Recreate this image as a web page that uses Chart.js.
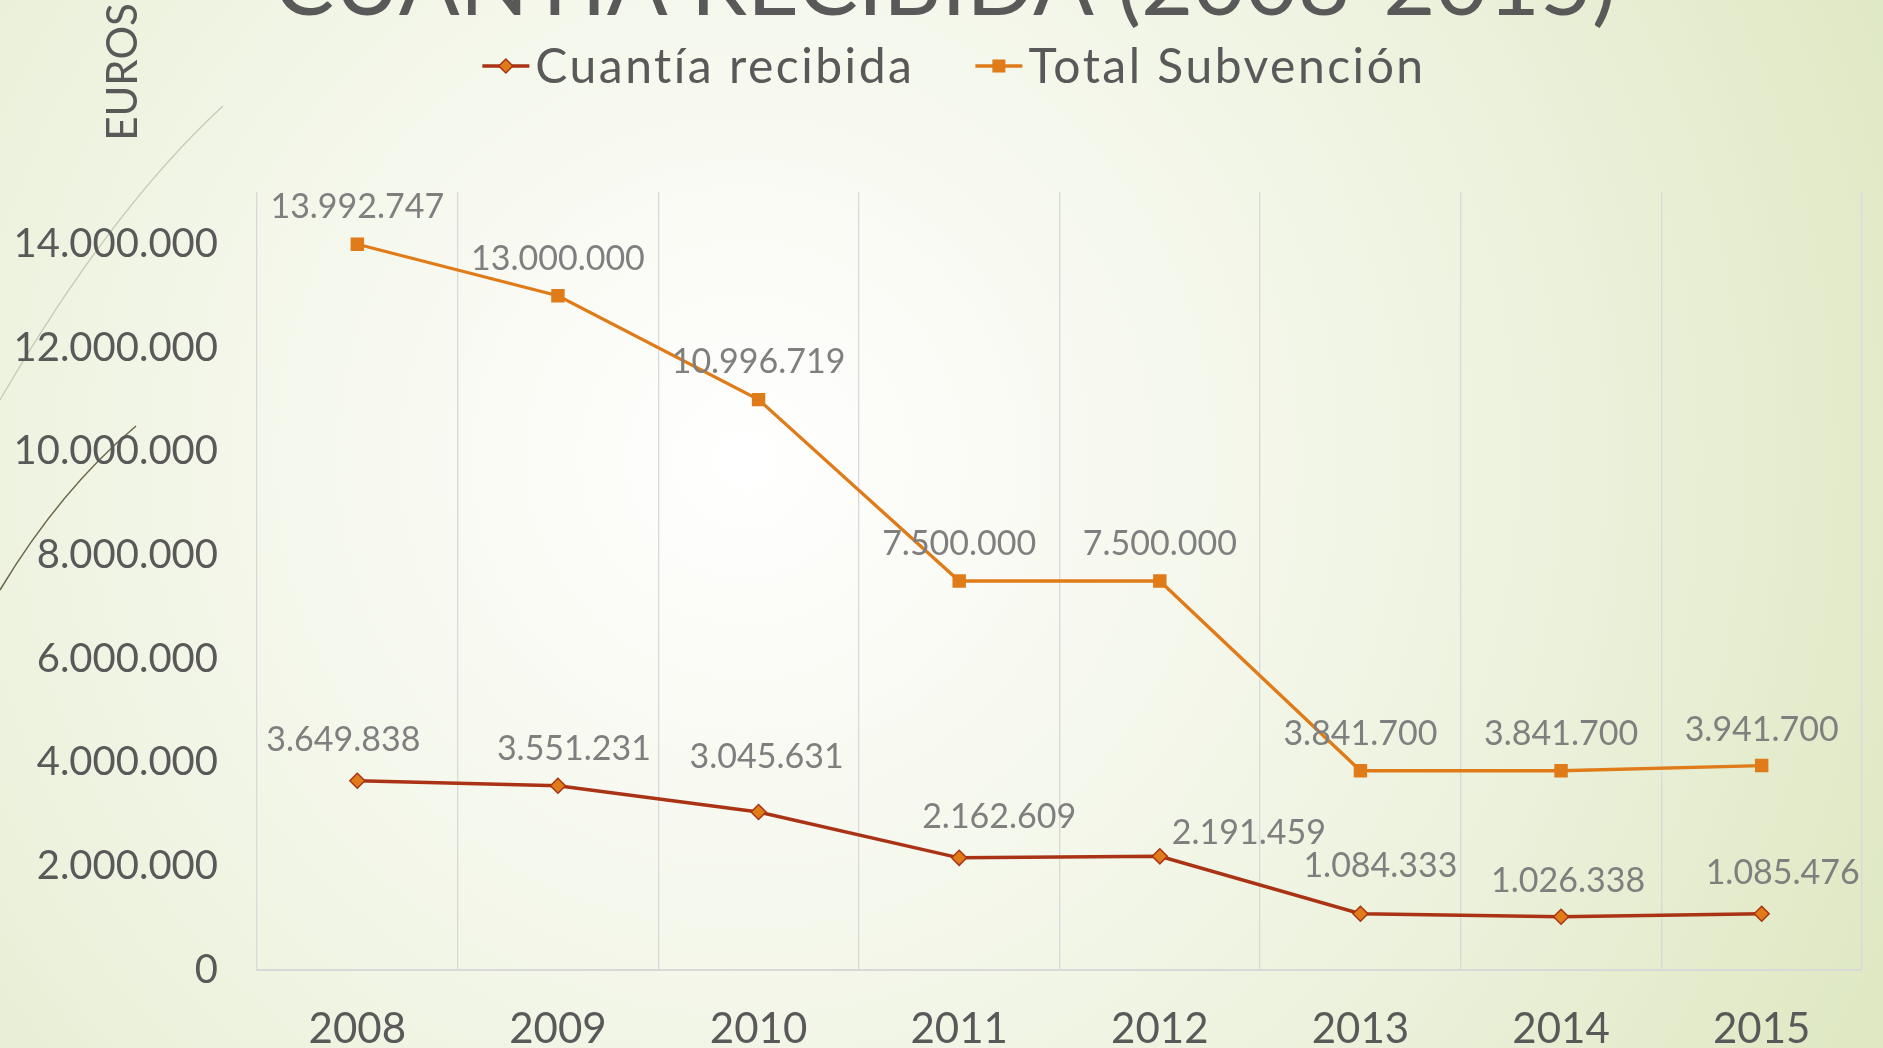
<!DOCTYPE html>
<html lang="es">
<head>
  <meta charset="UTF-8" />
  <title>Cuantía recibida (2008-2015)</title>
  <script src="https://cdn.jsdelivr.net/npm/chart.js"></script>
  <style>
    html, body { margin: 0; padding: 0; background: #fff; }
    #wrap { width: 1883px; height: 1048px; position: relative; overflow: hidden; }
  </style>
</head>
<body>
  <div id="wrap"><canvas id="c" width="1883" height="1048"></canvas></div>

  <script>
    // data
    const years = ['2008', '2009', '2010', '2011', '2012', '2013', '2014', '2015'];
    const cuantiaRecibida = [3649838, 3551231, 3045631, 2162609, 2191459, 1084333, 1026338, 1085476];
    const totalSubvencion = [13992747, 13000000, 10996719, 7500000, 7500000, 3841700, 3841700, 3941700];
    const yTicks = [0, 2000000, 4000000, 6000000, 8000000, 10000000, 12000000, 14000000];

    // label nudges (px) as placed on the slide
    const cuantiaLabelOffsets = [[-14, -41], [16, -37], [8, -55], [40, -41], [89, -23], [20, -48], [7, -36], [21, -41]];
    const totalLabelOffsets = [[0, -37], [0, -37], [0, -38], [0, -37], [0, -37], [0, -37], [0, -37], [0, -36]];

    const FONT = 'Lato, "DejaVu Sans", sans-serif';
    const DARK = '#595959';
    const LABEL = '#7f7f7f';
    const RED = '#a93314';
    const ORANGE = '#e07b19';

    const fmt = v => String(Math.round(v)).replace(/\B(?=(\d{3})+(?!\d))/g, '.');

    const bgPlugin = {
      id: 'slideBg',
      beforeDraw(chart) {
        const ctx = chart.ctx, w = chart.width, h = chart.height;
        ctx.save();
        const g = ctx.createRadialGradient(745, 460, 0, 745, 460, 1250);
        g.addColorStop(0, '#ffffff');
        g.addColorStop(0.15, '#fbfcf7');
        g.addColorStop(0.6, '#eef3e0');
        g.addColorStop(1, '#dfe8c3');
        ctx.fillStyle = g;
        ctx.fillRect(0, 0, w, h);

        // theme swooshes on the left
        ctx.lineWidth = 1.2;
        ctx.strokeStyle = 'rgba(170,170,150,0.6)';
        ctx.beginPath();
        ctx.moveTo(0, 400);
        ctx.quadraticCurveTo(110, 210, 223, 106);
        ctx.stroke();
        ctx.strokeStyle = 'rgba(90,85,55,0.9)';
        ctx.lineWidth = 1.5;
        ctx.beginPath();
        ctx.moveTo(0, 590);
        ctx.quadraticCurveTo(60, 490, 136, 426);
        ctx.stroke();

        // title (cut by the top edge of the slide)
        ctx.fillStyle = DARK;
        ctx.font = '90px ' + FONT;
        ctx.textAlign = 'center';
        ctx.textBaseline = 'alphabetic';
        ctx.fillText('CUANTÍA RECIBIDA (2008-2015)', 945, 15);

        // axis title
        ctx.translate(123, 72);
        ctx.rotate(-Math.PI / 2);
        ctx.font = '42px ' + FONT;
        ctx.textBaseline = 'middle';
        ctx.fillText('EUROS', 0, 0);
        ctx.restore();
      }
    };

    function drawMarker(ctx, style, x, y) {
      if (style === 'rectRot') {
        ctx.beginPath();
        ctx.moveTo(x, y - 7);
        ctx.lineTo(x + 7, y);
        ctx.lineTo(x, y + 7);
        ctx.lineTo(x - 7, y);
        ctx.closePath();
        ctx.fillStyle = ORANGE;
        ctx.fill();
        ctx.strokeStyle = RED;
        ctx.lineWidth = 1.5;
        ctx.stroke();
      } else {
        ctx.fillStyle = ORANGE;
        ctx.fillRect(x - 6.5, y - 6.5, 13, 13);
      }
    }

    const legendPlugin = {
      id: 'slideLegend',
      afterDraw(chart) {
        const ctx = chart.ctx;
        ctx.save();
        ctx.font = '48px ' + FONT;
        ctx.letterSpacing = '2.5px';
        ctx.textBaseline = 'middle';
        ctx.textAlign = 'left';
        const sets = chart.data.datasets;
        const widths = sets.map(ds => 53 + ctx.measureText(ds.label).width);
        const total = widths.reduce((a, b) => a + b, 0) + 61 * (sets.length - 1);
        let x = 954 - total / 2;
        const y = 66;
        sets.forEach((ds, i) => {
          ctx.strokeStyle = ds.borderColor;
          ctx.lineWidth = ds.borderWidth;
          ctx.beginPath();
          ctx.moveTo(x, y);
          ctx.lineTo(x + 47, y);
          ctx.stroke();
          drawMarker(ctx, ds.pointStyle, x + 23.5, y);
          ctx.fillStyle = DARK;
          ctx.fillText(ds.label, x + 53, y + 2);
          x += widths[i] + 61;
        });
        ctx.restore();
      }
    };

    const valueLabels = {
      id: 'valueLabels',
      afterDatasetsDraw(chart) {
        const ctx = chart.ctx;
        ctx.save();
        ctx.font = '34px ' + FONT;
        ctx.fillStyle = LABEL;
        ctx.textAlign = 'center';
        ctx.textBaseline = 'middle';
        chart.data.datasets.forEach((ds, di) => {
          const meta = chart.getDatasetMeta(di);
          meta.data.forEach((pt, i) => {
            const off = ds.labelOffsets[i];
            ctx.fillText(fmt(ds.data[i]), pt.x + off[0], pt.y + off[1]);
          });
        });
        ctx.restore();
      }
    };

    Chart.defaults.font.family = FONT;
    Chart.defaults.color = DARK;

    new Chart(document.getElementById('c'), {
      type: 'line',
      data: {
        labels: years,
        datasets: [{
          label: 'Cuantía recibida',
          data: cuantiaRecibida,
          labelOffsets: cuantiaLabelOffsets,
          borderColor: RED,
          borderWidth: 3.5,
          pointStyle: 'rectRot',
          pointRadius: 7.5,
          pointBackgroundColor: ORANGE,
          pointBorderColor: RED,
          pointBorderWidth: 1.5,
          tension: 0
        }, {
          label: 'Total Subvención',
          data: totalSubvencion,
          labelOffsets: totalLabelOffsets,
          borderColor: ORANGE,
          borderWidth: 3.3,
          pointStyle: 'rect',
          pointRadius: 9.5,
          pointBackgroundColor: ORANGE,
          pointBorderColor: ORANGE,
          pointBorderWidth: 0,
          tension: 0
        }]
      },
      options: {
        responsive: false,
        animation: false,
        events: [],
        layout: { padding: { top: 192, right: 21, left: 0, bottom: 0 } },
        plugins: {
          legend: { display: false },
          tooltip: { enabled: false }
        },
        scales: {
          x: {
            offset: true,
            grid: { offset: true, color: '#d9d9d9', lineWidth: 1.3, drawTicks: false },
            border: { color: '#d9d9d9', width: 2 },
            ticks: { font: { size: 42 }, color: DARK, padding: 34 },
            afterFit(scale) { scale.height = 78; }
          },
          y: {
            min: 0,
            max: 15000000,
            afterBuildTicks(scale) { scale.ticks = yTicks.map(v => ({ value: v })); },
            grid: { display: false },
            border: { display: false },
            ticks: { font: { size: 40 }, color: DARK, padding: 31, callback: v => fmt(v) },
            afterFit(scale) { scale.width = 257; }
          }
        }
      },
      plugins: [bgPlugin, valueLabels, legendPlugin]
    });
  </script>
</body>
</html>
